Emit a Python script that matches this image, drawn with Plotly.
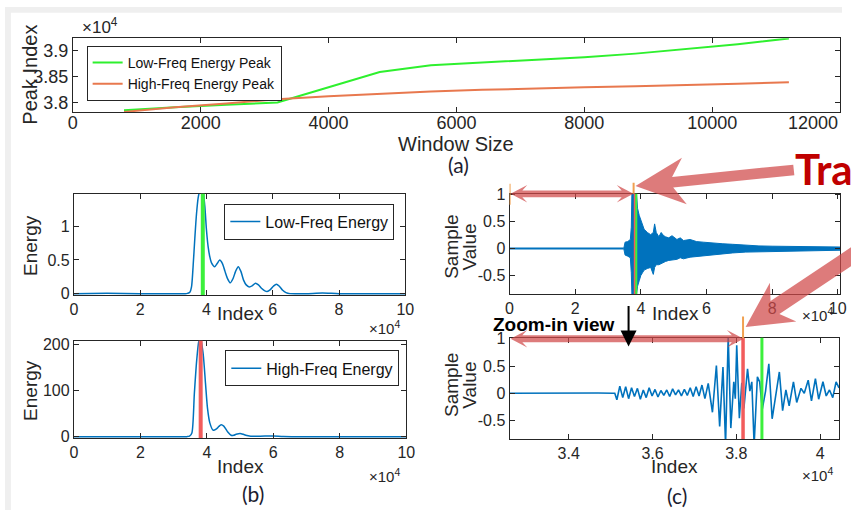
import math
import plotly.graph_objects as go

W, H = 851, 517
FONT = "Liberation Sans, Arial, sans-serif"
TXT = "#262626"
BLUE = "#0072BD"
GREEN = "#3cf03c"
RED = "#f25c5c"
ORANGE = "#f0a050"

# ---------------- (a) peak index vs window size ----------------
window_size = [800, 1600, 2400, 3200, 4000, 4800, 5600, 6400, 7200, 8000, 8800, 9600, 10400, 11200]
low_peak = [37860, 37920, 37965, 38010, 38300, 38590, 38720, 38770, 38810, 38870, 38940, 39030, 39120, 39230]
high_peak = [37830, 37920, 37990, 38070, 38130, 38180, 38220, 38250, 38280, 38300, 38320, 38340, 38365, 38395]
a_xticks = [0, 2000, 4000, 6000, 8000, 10000]
a_xticklabels = ["0", "2000", "4000", "6000", "8000", "10000"]
a_yticks = [38000, 38500, 39000]
a_yticklabels = ["3.8", "3.85", "3.9"]

# ---------------- (b) energy curves ----------------
low_idx = [0, 10000, 20000, 30000, 34000, 35000, 35500, 36000, 36500, 37000, 37500, 38000, 38800, 39500,
           40000, 40500, 41000, 41500, 42500, 43300, 44000, 44800, 45600, 46400, 47200, 48000, 48800,
           49600, 50400, 51200, 52000, 52900, 53900, 54800, 55700, 56600, 57500, 58300, 59300, 60200,
           61100, 62000, 63000, 64000, 65200, 70000, 75000, 80000, 90000, 100000]
low_energy = [0, 0.005, 0.0, 0.0, 0.0, 0.02, 0.1, 0.42, 0.82, 1.18, 1.42, 1.52, 1.55, 1.3,
              0.95, 0.7, 0.55, 0.46, 0.40, 0.45, 0.50, 0.45, 0.33, 0.22, 0.16, 0.22, 0.33,
              0.40, 0.33, 0.2, 0.13, 0.10, 0.12, 0.155, 0.13, 0.08, 0.045, 0.03, 0.06, 0.11,
              0.14, 0.11, 0.05, 0.015, 0.0, 0.0, 0.008, 0.0, 0.0, 0.0]
high_idx = [0, 10000, 20000, 30000, 34000, 34800, 35500, 36250, 36950, 37600, 38100, 38900, 39600,
            40200, 40900, 41900, 42900, 43600, 44300, 45100, 46300, 47300, 48100, 48800, 50000, 51000,
            51700, 53200, 56000, 60000, 63000, 70000, 80000, 100000]
high_energy = [0, 0, 0, 0, 0, 1, 8, 94, 166, 208, 215, 180, 116,
               62, 30, 14, 17, 22, 26, 23, 10, 3, 3, 5, 7, 5,
               3, 1, 1, 1.5, 0.5, 0, 0, 0]
b_low_peak = 38900
b_high_peak = 38150
b_xticks = [0, 20000, 40000, 60000, 80000, 100000]
b_xticklabels = ["0", "2", "4", "6", "8", "10"]

# ---------------- (c) raw signal ----------------
env_idx = [34800, 35200, 36000, 36800, 37100, 37300, 38600, 39000, 39500, 40000, 40500, 41000, 42000,
           43000, 43800, 44200, 44700, 45500, 46200, 46800, 47500, 48500, 49500, 51000, 52000, 53000,
           55000, 57000, 59000, 62000, 65000, 68000, 72000, 76000, 80000, 85000, 90000, 95000, 100700]
env_upper = [0.0, 0.12, 0.13, 0.17, 0.4, 1.1, 1.1, 0.75, 0.62, 0.52, 0.45, 0.36, 0.3,
             0.26, 0.3, 0.46, 0.3, 0.22, 0.3, 0.25, 0.22, 0.2, 0.24, 0.17, 0.2, 0.15,
             0.17, 0.13, 0.12, 0.1, 0.09, 0.08, 0.06, 0.05, 0.045, 0.04, 0.035, 0.03, 0.03]
env_lower = [0.0, -0.12, -0.14, -0.17, -0.45, -0.9, -0.9, -0.7, -0.6, -0.5, -0.45, -0.4, -0.37,
             -0.35, -0.48, -0.35, -0.3, -0.3, -0.27, -0.26, -0.24, -0.22, -0.21, -0.2, -0.17, -0.19,
             -0.16, -0.14, -0.13, -0.11, -0.1, -0.08, -0.065, -0.055, -0.05, -0.045, -0.04, -0.035, -0.03]
quiet_idx = [0, 34800]
quiet_val = [0, 0]

zoom_idx = [32590, 33300, 34000, 34700, 35050, 35100, 35150, 35220, 35290, 35360, 35430, 35500, 35570,
            35640, 35710, 35780, 35850, 35920, 35990, 36060, 36130, 36200, 36270, 36340, 36410, 36480,
            36550, 36620, 36690, 36760, 36830, 36900, 36970, 37040, 37110, 37180, 37250, 37329, 37430,
            37524, 37602, 37681, 37743, 37806, 37868, 37939, 37975, 38009, 38072, 38130, 38180, 38267,
            38322, 38369, 38424, 38502, 38556, 38619, 38697, 38775, 38854, 38932, 39026, 39104, 39182,
            39260, 39362, 39440, 39542, 39620, 39714, 39792, 39886, 39964, 40066, 40144, 40222, 40300,
            40379, 40450]
zoom_val = [0, 0.004, -0.003, 0.003, 0, 0.0, -0.12, 0.13, -0.08, 0.12, -0.1, 0.1, -0.06,
            0.09, -0.11, 0.06, -0.08, 0.1, -0.05, 0.07, -0.07, 0.05, -0.04, 0.06, -0.06, 0.08,
            -0.03, 0.06, -0.05, 0.07, -0.04, 0.1, -0.06, 0.12, -0.05, 0.15, -0.1, 0.18, -0.35,
            0.51, -0.61, 0.48, -0.95, 1.05, -0.64, 0.21, -0.1, 0.88, -0.46, 0.19, -0.28, 0.45,
            0.04, 0.21, -0.95, 0.3, 0.21, -0.29, 0.04, 0.54, -0.47, -0.08, 0.39, -0.32, 0.06,
            -0.23, 0.21, -0.17, 0.09, 0.0, 0.24, -0.14, 0.27, -0.11, 0.21, -0.05, 0.06, -0.08,
            0.21, 0.1]
c_high_peak = 38160
c_low_peak = 38610
c_start_mark = 0
c_event_mark = 37800
c_yticks = [-0.5, 0, 0.5, 1]
c_yticklabels = ["-0.5", "0", "0.5", "1"]
c_zoom_xticks = [34000, 36000, 38000, 40000]
c_zoom_xticklabels = ["3.4", "3.6", "3.8", "4"]


def px(x):
    return x / W


def py(y):
    return 1 - y / H


fig = go.Figure()

# (a)
fig.add_trace(go.Scatter(x=window_size, y=low_peak, mode="lines", name="Low-Freq Energy Peak",
                         line=dict(color="#2ef02e", width=2), xaxis="x", yaxis="y", legend="legend"))
fig.add_trace(go.Scatter(x=window_size, y=high_peak, mode="lines", name="High-Freq Energy Peak",
                         line=dict(color="#e8784e", width=2), xaxis="x", yaxis="y", legend="legend"))
# (b)
fig.add_trace(go.Scatter(x=low_idx, y=low_energy, mode="lines", name="Low-Freq Energy",
                         line=dict(color=BLUE, width=1.5, shape="spline", smoothing=0.7),
                         xaxis="x2", yaxis="y2", legend="legend2"))
fig.add_trace(go.Scatter(x=high_idx, y=high_energy, mode="lines", name="High-Freq Energy",
                         line=dict(color=BLUE, width=1.5, shape="spline", smoothing=0.7),
                         xaxis="x3", yaxis="y3", legend="legend3"))
# (c) top
fig.add_trace(go.Scatter(x=quiet_idx, y=quiet_val, mode="lines", line=dict(color=BLUE, width=2),
                         xaxis="x4", yaxis="y4", showlegend=False))
fig.add_trace(go.Scatter(x=env_idx + env_idx[::-1], y=env_upper + env_lower[::-1], mode="lines",
                         fill="toself", fillcolor=BLUE, line=dict(color=BLUE, width=1),
                         xaxis="x4", yaxis="y4", showlegend=False))
# (c) bottom
fig.add_trace(go.Scatter(x=zoom_idx, y=zoom_val, mode="lines", line=dict(color=BLUE, width=1.6),
                         xaxis="x5", yaxis="y5", showlegend=False))

axis_common = dict(showline=True, mirror="ticks", linecolor=TXT, linewidth=1, ticks="inside",
                   ticklen=5, tickcolor=TXT, showgrid=False, zeroline=False,
                   tickfont=dict(family=FONT, size=16, color=TXT))


def xdom(l, r):
    return [px(l), px(r)]


def ydom(t, b):
    return [py(b), py(t)]


fig.update_layout(
    width=W, height=H, margin=dict(l=0, r=0, t=0, b=0),
    paper_bgcolor="white", plot_bgcolor="white",
    xaxis=dict(axis_common, domain=xdom(69, 849), range=[0, 12000], tickvals=a_xticks,
               ticktext=a_xticklabels, tickfont=dict(family=FONT, size=18, color=TXT), anchor="y",
               ticklabelstandoff=-6),
    yaxis=dict(axis_common, domain=ydom(32, 108), range=[37827, 39235], tickvals=a_yticks,
               ticktext=a_yticklabels, tickfont=dict(family=FONT, size=18, color=TXT), anchor="x"),
    xaxis2=dict(axis_common, domain=xdom(70, 407), range=[0, 100000], tickvals=b_xticks,
                ticktext=b_xticklabels, anchor="y2"),
    yaxis2=dict(axis_common, domain=ydom(192, 296), range=[-0.02, 1.48], tickvals=[0, 0.5, 1],
                ticktext=["0", "0.5", "1"], anchor="x2"),
    xaxis3=dict(axis_common, domain=xdom(70, 408), range=[0, 100000], tickvals=b_xticks,
                ticktext=b_xticklabels, anchor="y3"),
    yaxis3=dict(axis_common, domain=ydom(343, 443), range=[-3, 209], tickvals=[0, 100, 200],
                ticktext=["0", "100", "200"], anchor="x3"),
    xaxis4=dict(axis_common, domain=xdom(513, 849), range=[0, 100700], tickvals=b_xticks,
                ticktext=b_xticklabels, anchor="y4"),
    yaxis4=dict(axis_common, domain=ydom(192, 295), range=[-0.845, 1.02], tickvals=c_yticks,
                ticktext=c_yticklabels, anchor="x4"),
    xaxis5=dict(axis_common, domain=xdom(513, 848), range=[32590, 40450], tickvals=c_zoom_xticks,
                ticktext=c_zoom_xticklabels, anchor="y5"),
    yaxis5=dict(axis_common, domain=ydom(340, 444), range=[-0.84, 1.018], tickvals=c_yticks,
                ticktext=c_yticklabels, anchor="x5"),
    legend=dict(x=px(83), y=py(40), xanchor="left", yanchor="top", bgcolor="white",
                bordercolor=TXT, borderwidth=1, font=dict(family=FONT, size=14, color="#111"),
                itemwidth=30, tracegroupgap=0),
    legend2=dict(x=px(223), y=py(202), xanchor="left", yanchor="top", bgcolor="white",
                 bordercolor=TXT, borderwidth=1, font=dict(family=FONT, size=16, color="#111"),
                 itemwidth=30),
    legend3=dict(x=px(224), y=py(353), xanchor="left", yanchor="top", bgcolor="white",
                 bordercolor=TXT, borderwidth=1, font=dict(family=FONT, size=16, color="#111"),
                 itemwidth=30),
)

shapes = []
# slide background strips
shapes.append(dict(type="rect", xref="paper", yref="paper", x0=0, x1=1, y0=py(6), y1=1,
                   fillcolor="#efefef", line=dict(width=0), layer="below"))
shapes.append(dict(type="rect", xref="paper", yref="paper", x0=0, x1=px(6), y0=0, y1=1,
                   fillcolor="#efefef", line=dict(width=0), layer="below"))


def vline(xref, yref, x, color, width, y0=0, y1=1):
    return dict(type="line", xref=xref, yref=yref, x0=x, x1=x, y0=y0, y1=y1,
                line=dict(color=color, width=width), layer="above")


shapes.append(vline("x2", "y2 domain", b_low_peak, GREEN, 4))
shapes.append(vline("x3", "y3 domain", b_high_peak, RED, 4))
shapes.append(vline("x4", "y4 domain", c_high_peak, RED, 2))
shapes.append(vline("x4", "y4 domain", c_low_peak, GREEN, 2))
shapes.append(vline("x5", "y5 domain", c_high_peak, RED, 3.5))
shapes.append(vline("x5", "y5 domain", c_low_peak, GREEN, 3))
shapes.append(vline("x4", "y4 domain", c_start_mark, ORANGE, 2, 0.89, 1.10))
shapes.append(vline("x4", "y4 domain", c_event_mark, ORANGE, 2, 1.0, 1.11))
shapes.append(vline("x5", "y5 domain", c_high_peak, ORANGE, 2, 0.99, 1.21))


def arrow(tail, tip, sw, hl, hw, notch, double=False):
    tx, ty = tail
    hx, hy = tip
    L = math.hypot(hx - tx, hy - ty)
    ux, uy = (hx - tx) / L, (hy - ty) / L
    nx, ny = -uy, ux

    def pt(b, a, c):
        return (b[0] + ux * a + nx * c, b[1] + uy * a + ny * c)

    pts = []
    if double:
        pts.append(pt(tail, hl - notch, sw / 2))
    else:
        pts.append(pt(tail, 0, sw / 2))
    pts += [pt(tip, -(hl - notch), sw / 2), pt(tip, -hl, hw), tip, pt(tip, -hl, -hw),
            pt(tip, -(hl - notch), -sw / 2)]
    if double:
        pts += [pt(tail, hl - notch, -sw / 2), pt(tail, hl, -hw), tail, pt(tail, hl, hw)]
    else:
        pts.append(pt(tail, 0, -sw / 2))
    path = "M " + " L ".join(f"{px(x):.5f},{py(y):.5f}" for x, y in pts) + " Z"
    return dict(type="path", xref="paper", yref="paper", path=path,
                fillcolor="rgba(208,72,72,0.72)", line=dict(width=0), layer="above")


shapes.append(arrow((514, 192), (639, 192), 7, 17, 9, 5, double=True))
shapes.append(arrow((514, 341), (751, 341), 7, 17, 9, 5, double=True))
shapes.append(arrow((802, 167.5), (641, 184), 11, 50, 24, 12))
shapes.append(arrow((919, 217), (753, 329), 16, 46, 24, 10))
fig.update_layout(shapes=shapes)

anns = []


def ann(text, x, y, size, color=TXT, angle=0, family=FONT, xanchor="center", bold=False, xref="paper"):
    if bold:
        text = f"<b>{text}</b>"
    anns.append(dict(text=text, x=x if xref != "paper" else px(x), y=py(y), xref=xref, yref="paper",
                     showarrow=False, textangle=angle, xanchor=xanchor, yanchor="middle",
                     font=dict(family=family, size=size, color=color)))


ann("12000", 12000, 119, 18, xanchor="right", xref="x")
ann("×10<sup>4</sup>", 97, 20, 17)
ann("Peak Index", 26, 70, 20, angle=-90)
ann("Window Size", 459, 141, 20)
ann("(a)", 461, 162, 21, color="#1c1c30", family="Lato, Open Sans, sans-serif")
ann("Energy", 26, 245, 19, angle=-90)
ann("Index", 239, 315, 19)
ann("×10<sup>4</sup>", 386, 329, 15)
ann("Energy", 26, 394, 19, angle=-90)
ann("Index", 239, 472, 19)
ann("×10<sup>4</sup>", 386, 482, 15)
ann("(b)", 252, 500, 21, color="#1c1c30", family="Lato, Open Sans, sans-serif")
ann("Sample", 454, 247, 19, angle=-90)
ann("Value", 472, 247, 19, angle=-90)
ann("Index", 682, 315, 19)
ann("×10<sup>4</sup>", 826, 316, 15)
ann("Sample", 454, 389, 19, angle=-90)
ann("Value", 472, 389, 19, angle=-90)
ann("Index", 681, 472, 19)
ann("×10<sup>4</sup>", 826, 480, 15)
ann("(c)", 683, 502, 21, color="#1c1c30", family="Lato, Open Sans, sans-serif")
ann("Zoom-in view", 558, 326, 19, color="#000", bold=True)
anns.append(dict(text="Tra", x=px(801), y=py(167), xref="paper", yref="paper", showarrow=False,
                 xanchor="left", yanchor="middle",
                 font=dict(family="Lato, Liberation Sans, sans-serif", size=42, color="#c00000", weight="bold")))
# black pointer arrow
anns.append(dict(text="", x=px(634), y=py(349), xref="paper", yref="paper", showarrow=True,
                 ax=0, ay=-42, arrowhead=2, arrowsize=1.6, arrowwidth=2, arrowcolor="#000"))
fig.update_layout(annotations=anns)

fig.write_html("out.html", config={"displayModeBar": False, "staticPlot": True},
               post_script="document.body.style.margin='0';document.body.style.overflow='hidden';")
